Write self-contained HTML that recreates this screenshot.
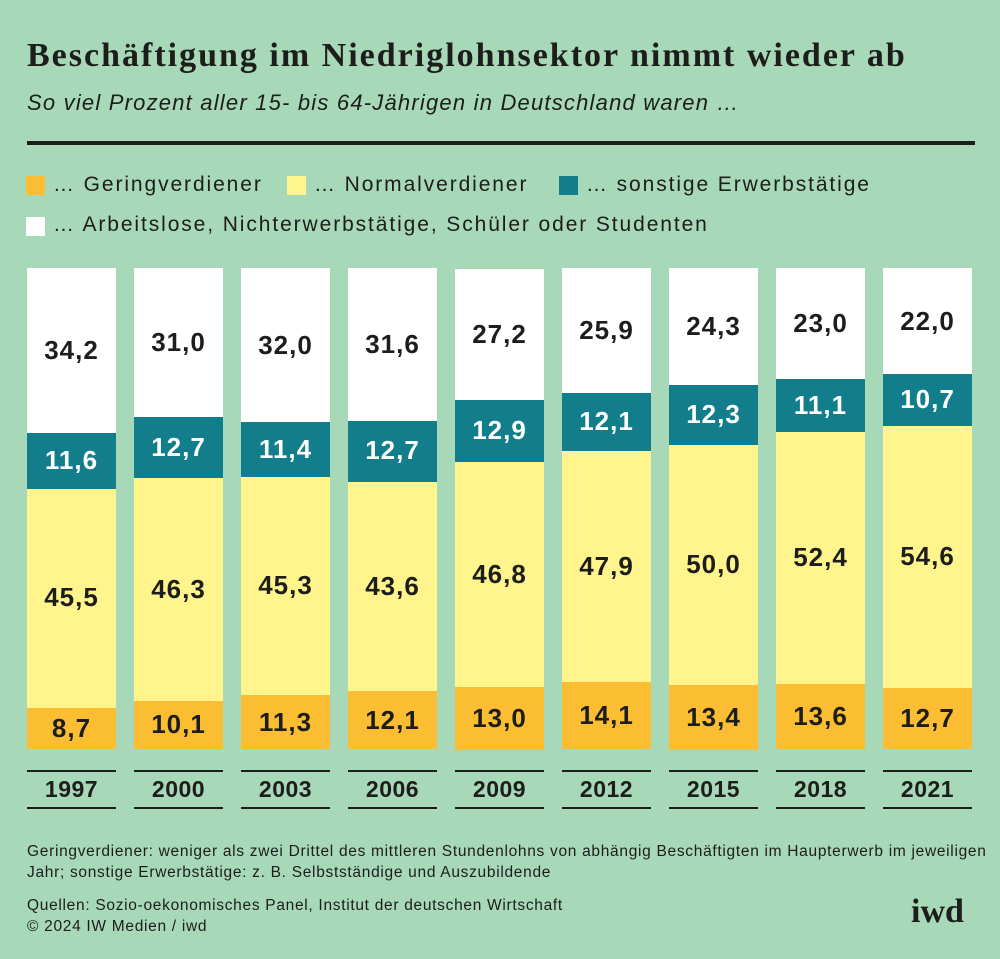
<!DOCTYPE html><html><head><style>
body{margin:0;width:1000px;height:959px;background:#a7d8b8;font-family:"Liberation Sans",sans-serif;color:#1d1d1b;position:relative;overflow:hidden}
.a{position:absolute;white-space:nowrap}
.seg{position:absolute;left:0;width:89px;display:flex;align-items:center;justify-content:center;font-weight:bold;font-size:26px;letter-spacing:1px}
.ln{position:absolute;height:2px;background:#1d1d1b;width:89px}
.yr{position:absolute;width:89px;text-align:center;font-weight:bold;font-size:23px;top:776px;letter-spacing:0.5px}
.sq{position:absolute;width:19px;height:19px}
.lg{font-size:21px;letter-spacing:1.9px}
</style></head><body>
<div class="a" style="left:27px;top:37px;font-family:'Liberation Serif',serif;font-weight:bold;font-size:34px;letter-spacing:2px">Beschäftigung im Niedriglohnsektor nimmt wieder ab</div>
<div class="a" style="left:27px;top:90px;font-style:italic;font-size:22px;letter-spacing:1.2px">So viel Prozent aller 15- bis 64-Jährigen in Deutschland waren …</div>
<div class="a" style="left:27px;top:141px;width:948px;height:4px;background:#1d1d1b"></div>
<div class="sq" style="left:26px;top:176px;background:#fbbd31"></div><div class="a lg" style="left:53px;top:173px">… Geringverdiener</div>
<div class="sq" style="left:287px;top:176px;background:#fff58c"></div><div class="a lg" style="left:314px;top:173px">… Normalverdiener</div>
<div class="sq" style="left:559px;top:176px;background:#127e8c"></div><div class="a lg" style="left:586px;top:173px">… sonstige Erwerbstätige</div>
<div class="sq" style="left:26px;top:217px;background:#fff"></div><div class="a lg" style="left:53px;top:213px">… Arbeitslose, Nichterwerbstätige, Schüler oder Studenten</div>
<div id="c"></div>
<div class="a" style="left:27px;top:841px;font-size:15.5px;line-height:21px;letter-spacing:0.7px">Geringverdiener: weniger als zwei Drittel des mittleren Stundenlohns von abhängig Beschäftigten im Haupterwerb im jeweiligen<br>Jahr; sonstige Erwerbstätige: z. B. Selbstständige und Auszubildende</div>
<div class="a" style="left:27px;top:895px;font-size:15.5px;line-height:21px;letter-spacing:0.7px">Quellen: Sozio-oekonomisches Panel, Institut der deutschen Wirtschaft<br>© 2024 IW Medien / iwd</div>
<div class="a" style="left:911px;top:893px;font-family:'Liberation Serif',serif;font-weight:bold;font-size:34px">iwd</div>
<script>
var d=[["1997",8.7,45.5,11.6,34.2],["2000",10.1,46.3,12.7,31.0],["2003",11.3,45.3,11.4,32.0],["2006",12.1,43.6,12.7,31.6],["2009",13.0,46.8,12.9,27.2],["2012",14.1,47.9,12.1,25.9],["2015",13.4,50.0,12.3,24.3],["2018",13.6,52.4,11.1,23.0],["2021",12.7,54.6,10.7,22.0]];
var cols=["#fbbd31","#fff58c","#127e8c","#fff"],tc=["#1d1d1b","#1d1d1b","#fff","#1d1d1b"];
var h="",B=749,H=481;
d.forEach(function(r,i){var x=27+i*107,y=B;
for(var k=1;k<=4;k++){var hh=r[k]/100*H;y-=hh;
h+='<div class="seg" style="left:'+x+'px;top:'+y.toFixed(1)+'px;height:'+(hh+0.5).toFixed(1)+'px;background:'+cols[k-1]+';color:'+tc[k-1]+'">'+r[k].toFixed(1).replace(".",",")+'</div>';}
h+='<div class="ln" style="left:'+x+'px;top:770px"></div><div class="ln" style="left:'+x+'px;top:807px"></div><div class="yr" style="left:'+x+'px">'+r[0]+'</div>';});
document.getElementById("c").innerHTML=h;
</script>
</body></html>
